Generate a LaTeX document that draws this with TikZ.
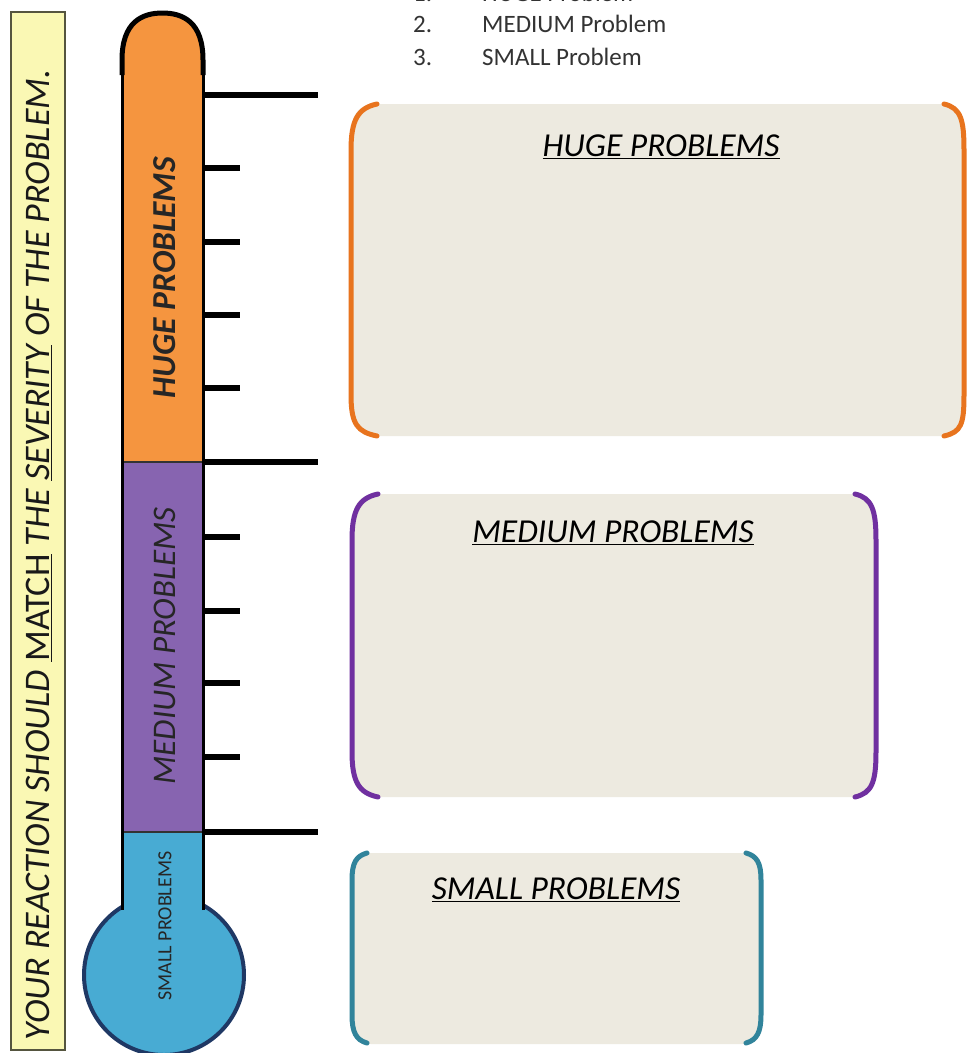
\documentclass[tikz,border=0pt]{standalone}
\usepackage{fontspec}
\setmainfont{Carlito}
\definecolor{yfill}{HTML}{FAF8B4}
\definecolor{yborder}{HTML}{55553F}
\definecolor{tOrange}{HTML}{F5953F}
\definecolor{tPurple}{HTML}{8764B0}
\definecolor{tBlue}{HTML}{48ABD3}
\definecolor{bulbBorder}{HTML}{1F3864}
\definecolor{boxFill}{HTML}{EDEAE0}
\definecolor{brOrange}{HTML}{E8741E}
\definecolor{brPurple}{HTML}{7030A0}
\definecolor{brTeal}{HTML}{31849B}
\tikzset{
  tick/.style={line width=6pt, black},
  bracketline/.style={line width=5pt, line cap=round},
  heading/.style={font=\fontsize{33.5}{33.5}\selectfont\itshape, text=black, inner sep=0pt},
  listtext/.style={font=\fontsize{25}{25}\selectfont, text=black!80, inner sep=0pt, anchor=base west},
}
\begin{document}
\begin{tikzpicture}[x=1pt,y=-1pt]
\useasboundingbox (0,0) rectangle (969,1053);
\clip (0,0) rectangle (969,1053);
\fill[white] (0,0) rectangle (969,1053);

% side banner
\draw[yborder, fill=yfill, line width=2pt] (11,12) rectangle (65,1050);
\node[rotate=90, inner sep=0pt, font=\fontsize{36}{36}\selectfont\itshape, text=black!90] (side) at (39,555)
  {YOUR REACTION SHOULD \underline{\upshape MATCH} THE \underline{SEVERITY} OF THE PROBLEM.};

% list at top
\node[listtext] (n1) at (413,1) {1.};
\node[listtext] (l1) at (482,1) {HUGE Problem};
\node[listtext] (n2) at (413,32) {2.};
\node[listtext] (l2) at (482,32) {MEDIUM Problem};
\node[listtext] (n3) at (413,65) {3.};
\node[listtext] (l3) at (482,65) {SMALL Problem};

% thermometer bulb
\draw[bulbBorder, fill=tBlue, line width=4pt] (164,975) circle[radius=80];
\fill[tBlue] (122,832) rectangle (203,925);
\fill[tPurple] (122,462) rectangle (203,832);
\fill[tOrange] (122,462) -- (122,60) .. controls (122,22) and (142,13) .. (162.5,13)
   .. controls (183,13) and (203,22) .. (203,60) -- (203,462) -- cycle;
\draw[black!80, line width=1.5pt] (122,462) -- (203,462);
\draw[black!80, line width=1.5pt] (122,832) -- (203,832);
\draw[black, line width=3pt] (122,910) -- (122,70);
\draw[black, line width=3pt] (203,910) -- (203,70);
\draw[black, line width=5pt] (122,75) -- (122,60) .. controls (122,22) and (142,13) .. (162.5,13)
   .. controls (183,13) and (203,22) .. (203,60) -- (203,75);

% ticks
\foreach \yy in {95,462,832} \draw[tick] (203,\yy) -- (318,\yy);
\foreach \yy in {168,242,315,388,537,611,683,757} \draw[tick] (203,\yy) -- (240,\yy);

% tube labels
\node[rotate=90, inner sep=0pt, font=\fontsize{33.5}{33.5}\selectfont\bfseries\itshape, text=black!85] (tHuge) at (165,278) {HUGE PROBLEMS};
\node[rotate=90, inner sep=0pt, font=\fontsize{33}{33}\selectfont\itshape, text=black!85] (tMed) at (165,646) {MEDIUM PROBLEMS};
\node[rotate=90, inner sep=0pt, font=\fontsize{20}{20}\selectfont, text=black!85] (tSmall) at (165,926) {SMALL PROBLEMS};

% HUGE box
\fill[boxFill, rounded corners=22pt] (352,104) rectangle (963,436);
\draw[bracketline, brOrange] (377,104) .. controls (358,108) and (351,120) .. (351,150)
   -- (351,395) .. controls (351,425) and (358,432) .. (377,436);
\draw[bracketline, brOrange] (944,104) .. controls (961,108) and (964,120) .. (964,150)
   -- (964,395) .. controls (964,425) and (961,432) .. (944,436);
\node[heading] (hHuge) at (661,147) {\underline{HUGE PROBLEMS}};

% MEDIUM box
\fill[boxFill, rounded corners=22pt] (353,494) rectangle (875,797);
\draw[bracketline, brPurple] (378,494) .. controls (359,498) and (352,510) .. (352,540)
   -- (352,752) .. controls (352,782) and (359,793) .. (378,797);
\draw[bracketline, brPurple] (855,494) .. controls (872,498) and (876,510) .. (876,540)
   -- (876,752) .. controls (876,782) and (872,793) .. (855,797);
\node[heading] (hMed) at (613,533) {\underline{MEDIUM PROBLEMS}};

% SMALL box
\fill[boxFill, rounded corners=18pt] (353,853) rectangle (760,1044);
\draw[bracketline, brTeal] (367,853) .. controls (356,856) and (352,863) .. (352,880)
   -- (352,1015) .. controls (352,1032) and (356,1040) .. (367,1043);
\draw[bracketline, brTeal] (746,853) .. controls (757,856) and (761,863) .. (761,880)
   -- (761,1015) .. controls (761,1032) and (757,1040) .. (746,1043);
\node[heading] (hSmall) at (556,890) {\underline{SMALL PROBLEMS}};
\end{tikzpicture}
\end{document}
